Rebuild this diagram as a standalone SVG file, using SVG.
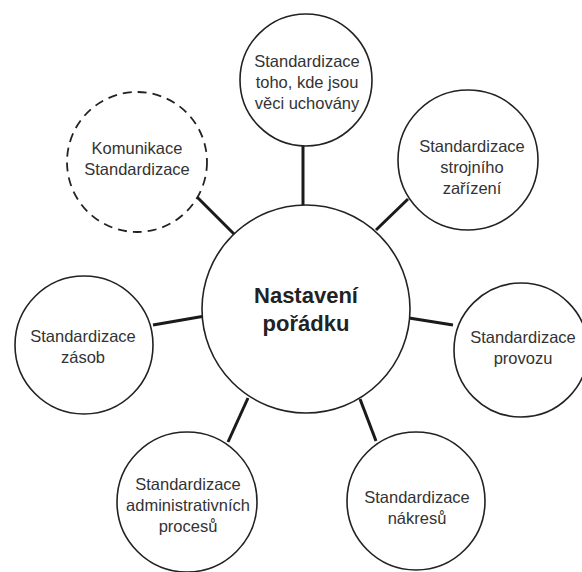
<svg xmlns="http://www.w3.org/2000/svg" width="582" height="572" viewBox="0 0 582 572">
<style>
.c{fill:#fff;stroke:#222;stroke-width:1.6}
.d{fill:#fff;stroke:#222;stroke-width:1.8;stroke-dasharray:9 6}
.t{font-family:"Liberation Sans",Arial,sans-serif;font-size:16.5px;fill:#333;text-anchor:middle}
.b{font-family:"Liberation Sans",Arial,sans-serif;font-size:22px;font-weight:bold;fill:#222;text-anchor:middle}
.l{stroke:#1a1a1a;stroke-width:3;fill:none}
</style>
<rect width="582" height="572" fill="#fff"/>
<g id="connectors">
<line class="l" x1="303" y1="145" x2="303" y2="206"/>
<line class="l" x1="197" y1="197" x2="234" y2="234"/>
<line class="l" x1="408" y1="199" x2="376" y2="230"/>
<line class="l" x1="153" y1="325" x2="205" y2="316"/>
<line class="l" x1="409" y1="318" x2="453" y2="325"/>
<line class="l" x1="248" y1="398" x2="228" y2="442"/>
<line class="l" x1="360" y1="399" x2="376" y2="441"/>
</g>
<g id="center">
<circle class="c" cx="306" cy="309" r="104"/>
<text class="b" x="306" y="303">Nastavení</text>
<text class="b" x="306" y="331">pořádku</text>
</g>
<g id="top">
<circle class="c" cx="306" cy="80" r="66"/>
<text class="t" x="307" y="67">Standardizace</text>
<text class="t" x="307" y="88">toho, kde jsou</text>
<text class="t" x="307" y="109">věci uchovány</text>
</g>
<g id="komunikace">
<circle class="d" cx="137" cy="162" r="70"/>
<text class="t" x="137" y="154">Komunikace</text>
<text class="t" x="137" y="175">Standardizace</text>
</g>
<g id="stroje">
<circle class="c" cx="468" cy="160" r="70"/>
<text class="t" x="472" y="152">Standardizace</text>
<text class="t" x="472" y="173">strojního</text>
<text class="t" x="472" y="194">zařízení</text>
</g>
<g id="zasoby">
<circle class="c" cx="84" cy="345" r="69"/>
<text class="t" x="83" y="342">Standardizace</text>
<text class="t" x="83" y="363">zásob</text>
</g>
<g id="provoz">
<circle class="c" cx="521" cy="350" r="67"/>
<text class="t" x="523" y="343">Standardizace</text>
<text class="t" x="523" y="364">provozu</text>
</g>
<g id="admin">
<circle class="c" cx="187" cy="502" r="70"/>
<text class="t" x="188" y="490">Standardizace</text>
<text class="t" x="188" y="511">administrativních</text>
<text class="t" x="188" y="532">procesů</text>
</g>
<g id="nakresy">
<circle class="c" cx="416" cy="501" r="69"/>
<text class="t" x="417" y="503">Standardizace</text>
<text class="t" x="417" y="524">nákresů</text>
</g>
</svg>
